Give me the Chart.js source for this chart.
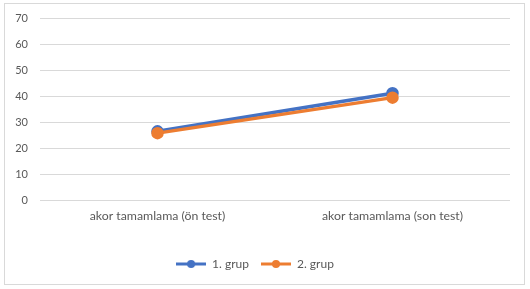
<!DOCTYPE html>
<html>
<head>
<meta charset="utf-8">
<script src="https://cdn.jsdelivr.net/npm/chart.js@4/dist/chart.umd.min.js"></script>
<style>
  html, body { margin: 0; padding: 0; background: #fff; }
  #wrap { position: relative; width: 530px; height: 289px; }
  #frame { position: absolute; left: 4px; top: 3px; width: 519px; height: 280px; border: 1px solid #d9d9d9; }
  #grafica { position: absolute; left: 0; top: 0; }
</style>
</head>
<body>
<div id="wrap">
  <div id="frame"></div>
  <canvas id="grafica" width="530" height="289"></canvas>
</div>
<script>
const labels = ['akor tamamlama (ön test)', 'akor tamamlama (son test)'];
const grup1 = [26.5, 41.2];
const grup2 = [25.8, 39.5];
const yTicks = [0, 10, 20, 30, 40, 50, 60, 70];

const blue = '#4472C4';
const orange = '#ED7D31';
const textColor = '#595959';
const gridColor = '#d9d9d9';

// small "line with dot" marker for the legend, like the Excel one
function legendMarker(color) {
  const c = document.createElement('canvas');
  c.width = 30;
  c.height = 10;
  const ctx = c.getContext('2d');
  ctx.strokeStyle = color;
  ctx.lineWidth = 3;
  ctx.beginPath();
  ctx.moveTo(0, 5);
  ctx.lineTo(30, 5);
  ctx.stroke();
  ctx.fillStyle = color;
  ctx.beginPath();
  ctx.arc(15, 5, 4, 0, Math.PI * 2);
  ctx.fill();
  return c;
}
const markers = [legendMarker(blue), legendMarker(orange)];

const graph = document.querySelector('#grafica');

const data = {
  labels: labels,
  datasets: [{
    label: '1. grup',
    data: grup1,
    borderColor: blue,
    backgroundColor: blue,
    borderWidth: 3.5,
    pointRadius: 4.5,
    pointHoverRadius: 4.5,
    order: 1
  }, {
    label: '2. grup',
    data: grup2,
    borderColor: orange,
    backgroundColor: orange,
    borderWidth: 3.5,
    pointRadius: 4.5,
    pointHoverRadius: 4.5,
    order: 0
  }]
};

const config = {
  type: 'line',
  data: data,
  options: {
    responsive: false,
    animation: false,
    layout: { padding: { left: 0, right: 20, top: 17, bottom: 9 } },
    scales: {
      x: {
        offset: true,
        grid: { display: false, drawTicks: false },
        border: { display: false },
        ticks: { color: textColor, font: { family: 'Lato', size: 12.3 }, padding: 9, maxRotation: 0 },
        afterFit: (scale) => { scale.height = 46; }
      },
      y: {
        min: 0,
        max: 70,
        grid: { color: gridColor, lineWidth: 1, drawTicks: false },
        border: { display: false },
        afterBuildTicks: (scale) => { scale.ticks = yTicks.map(v => ({ value: v })); },
        ticks: { color: textColor, font: { family: 'Lato', size: 11 }, padding: 12 },
        afterFit: (scale) => { scale.width = 40; }
      }
    },
    plugins: {
      tooltip: { enabled: false },
      legend: {
        position: 'bottom',
        labels: {
          color: textColor,
          font: { family: 'Lato', size: 12 },
          usePointStyle: true,
          pointStyleWidth: 30,
          padding: 12,
          sort: (a, b) => a.datasetIndex - b.datasetIndex,
          generateLabels: (chart) => {
            const items = Chart.defaults.plugins.legend.labels.generateLabels(chart);
            items.forEach(it => { it.pointStyle = markers[it.datasetIndex]; });
            return items;
          }
        }
      }
    }
  }
};
new Chart(graph, config);
</script>
</body>
</html>
